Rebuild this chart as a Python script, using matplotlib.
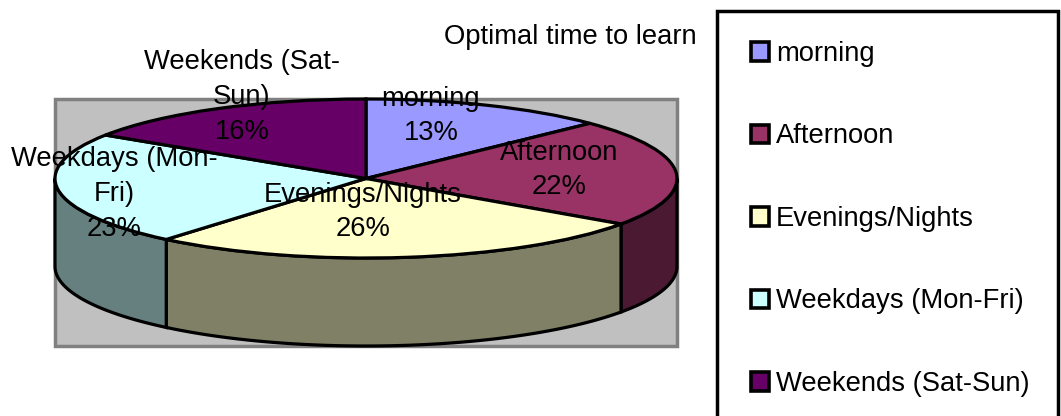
import matplotlib
matplotlib.use("Agg")
import matplotlib.pyplot as plt
import numpy as np
from matplotlib.patches import Patch, Polygon, Rectangle

plt.rcParams["font.family"] = ["Liberation Sans", "DejaVu Sans"]

categories = ["morning", "Afternoon", "Evenings/Nights", "Weekdays (Mon-Fri)", "Weekends (Sat-Sun)"]
wrapped_names = ["morning", "Afternoon", "Evenings/Nights", "Weekdays (Mon-\nFri)", "Weekends (Sat-\nSun)"]
values = [12.8, 21.9, 26.4, 23.1, 15.8]
top_colors = ["#9999FF", "#993366", "#FFFFCC", "#CCFFFF", "#660066"]
side_colors = ["#4C4C80", "#4C1933", "#808066", "#668080", "#330033"]
label_centers = [(431, 116), (559, 170), (363, 212), (114, 194), (242, 97)]

W, H = 1061, 416
CX0, CX1 = 55, 677
TOP, BOTTOM = 99, 346
RY = 79.5
DEPTH = (BOTTOM - TOP - 2 * RY) / RY
FONT = 19.7
LINE = 2.3

fig = plt.figure(figsize=(W / 100, H / 100), dpi=100, facecolor="white")

# plot area behind the pie
back = fig.add_axes([0, 0, 1, 1])
back.set_xlim(0, W)
back.set_ylim(H, 0)
back.axis("off")
back.add_patch(Rectangle((CX0, TOP), CX1 - CX0, BOTTOM - TOP, facecolor="#C0C0C0", edgecolor="#808080", linewidth=2.5))
back.add_patch(Rectangle((717, 11), 341, H, facecolor="white", edgecolor="black", linewidth=2.5, clip_on=True))

# pie in unit coords, the axes stretch it into an ellipse
ax = fig.add_axes([CX0 / W, 1 - BOTTOM / H, (CX1 - CX0) / W, (BOTTOM - TOP) / H])
ax.patch.set_visible(False)

edges = np.cumsum([0] + values) / sum(values) * 360
for start, stop, color in zip(edges[:-1], edges[1:], side_colors):
    a0, a1 = max(start, 90), min(stop, 270)
    if a1 <= a0:
        continue
    t = np.radians(np.linspace(a0, a1, 80))
    x, y = np.sin(t), np.cos(t)
    pts = np.r_[np.c_[x, y], np.c_[x, y - DEPTH][::-1]]
    ax.add_patch(Polygon(pts, closed=True, facecolor=color, edgecolor="black", linewidth=LINE, clip_on=False))

ax.pie(values, colors=top_colors, startangle=90, counterclock=False, radius=1, frame=True,
       wedgeprops={"edgecolor": "black", "linewidth": LINE, "clip_on": False})
ax.set_aspect("auto")
ax.set_xlim(-1, 1)
ax.set_ylim(-1 - DEPTH, 1)
ax.axis("off")

# labels on top of everything
over = fig.add_axes([0, 0, 1, 1])
over.set_xlim(0, W)
over.set_ylim(H, 0)
over.axis("off")
over.patch.set_visible(False)
for name, val, (lx, ly) in zip(wrapped_names, values, label_centers):
    over.text(lx, ly, f"{name}\n{val:.0f}%", ha="center", va="center", fontsize=FONT, linespacing=1.43, color="black")
over.text(570, 37, "Optimal time to learn", ha="center", va="center", fontsize=FONT, color="black")

handles = [Patch(facecolor=c, edgecolor="black", linewidth=2.6) for c in top_colors]
fig.legend(handles, categories, loc="upper left", bbox_to_anchor=(717 / W, 1 - 7 / H), fontsize=FONT,
           frameon=False, borderpad=1.24, labelspacing=2.065, handlelength=0.66, handleheight=0.66,
           handletextpad=0.25, borderaxespad=0)

fig.savefig("out.png", dpi=100)
